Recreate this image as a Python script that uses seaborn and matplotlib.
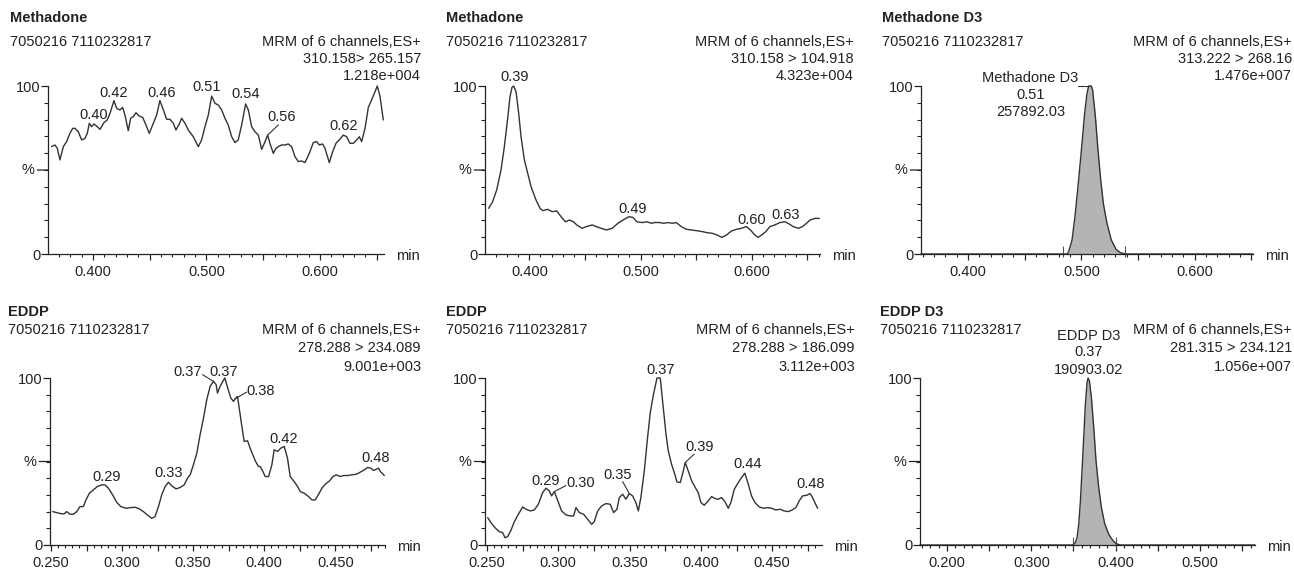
import pandas as pd
import matplotlib
matplotlib.use('Agg')
import matplotlib.pyplot as plt
from matplotlib.ticker import MultipleLocator, FixedLocator, FuncFormatter
import seaborn as sns

sns.set_theme(style='white')
plt.rcParams['font.family'] = ['Liberation Sans', 'DejaVu Sans']
plt.rcParams['font.size'] = 10.5

W, H = 1294, 570
INK = '#222222'
TRACE = '#333333'
FILL = '#b4b4b4'
FS = 10.5

# ---- header texts ----
SAMPLE = '7050216 7110232817'
CHANNEL = 'MRM of 6 channels,ES+'
compounds = ['Methadone', 'Methadone', 'Methadone D3', 'EDDP', 'EDDP', 'EDDP D3']
transitions = ['310.158> 265.157', '310.158 > 104.918', '313.222 > 268.16',
               '278.288 > 234.089', '278.288 > 186.099', '281.315 > 234.121']
intensities = ['1.218e+004', '4.323e+004', '1.476e+007',
               '9.001e+003', '3.112e+003', '1.056e+007']

# ---- traces (retention time in min, relative intensity %) ----
rt_1 = [0.3636, 0.3665, 0.3686, 0.3709, 0.3739, 0.3768, 0.3797, 0.3821, 0.3841, 0.3871,
        0.3900, 0.3930, 0.3950, 0.3968, 0.3988, 0.4009, 0.4038, 0.4062, 0.4097, 0.4126,
        0.4150, 0.4185, 0.4209, 0.4238, 0.4261, 0.4282, 0.4311, 0.4332, 0.4355, 0.4379,
        0.4408, 0.4438, 0.4467, 0.4496, 0.4526, 0.4561, 0.4590, 0.4626, 0.4649, 0.4678,
        0.4708, 0.4731, 0.4761, 0.4781, 0.4811, 0.4840, 0.4884, 0.4928, 0.4957, 0.4987,
        0.5016, 0.5046, 0.5075, 0.5104, 0.5134, 0.5163, 0.5192, 0.5222, 0.5251, 0.5280,
        0.5310, 0.5345, 0.5369, 0.5398, 0.5427, 0.5457, 0.5486, 0.5510, 0.5539, 0.5559,
        0.5589, 0.5612, 0.5633, 0.5662, 0.5692, 0.5721, 0.5750, 0.5780, 0.5809, 0.5838,
        0.5868, 0.5906, 0.5941, 0.5971, 0.5994, 0.6023, 0.6044, 0.6082, 0.6112, 0.6141,
        0.6170, 0.6206, 0.6235, 0.6264, 0.6294, 0.6323, 0.6347, 0.6367, 0.6397, 0.6426,
        0.6455, 0.6505, 0.6529, 0.6558]
pct_1 = [63.9, 64.9, 62.9, 56.0, 63.9, 66.9, 71.8, 74.8, 74.8, 72.8,
         67.9, 68.8, 71.8, 77.8, 75.8, 77.4, 75.8, 74.2, 78.2, 79.8,
         83.7, 91.3, 86.7, 85.7, 87.3, 82.7, 73.4, 80.8, 81.7, 84.1,
         82.1, 81.3, 76.8, 71.8, 76.8, 82.7, 91.3, 84.7, 80.2, 80.2,
         77.8, 73.8, 77.4, 80.8, 77.8, 73.8, 69.8, 63.9, 67.9, 75.8,
         82.7, 94.0, 89.7, 88.7, 85.7, 80.8, 76.8, 69.8, 66.3, 67.9,
         76.8, 89.3, 85.7, 75.8, 72.8, 70.8, 62.3, 65.9, 70.8, 65.9,
         59.9, 62.9, 63.9, 64.9, 64.9, 65.5, 63.9, 57.9, 55.0, 55.4,
         54.4, 59.9, 66.3, 66.9, 64.9, 65.5, 62.9, 54.4, 60.9, 65.9,
         67.9, 70.8, 69.8, 65.9, 65.9, 67.9, 69.8, 66.9, 74.8, 87.3,
         91.7, 100.0, 93.7, 79.8]

rt_2 = [0.3634, 0.3670, 0.3706, 0.3745, 0.3775, 0.3805, 0.3826, 0.3844, 0.3859, 0.3880,
        0.3904, 0.3925, 0.3955, 0.3985, 0.4015, 0.4060, 0.4096, 0.4120, 0.4165, 0.4204,
        0.4246, 0.4285, 0.4324, 0.4360, 0.4396, 0.4426, 0.4474, 0.4511, 0.4565, 0.4601,
        0.4646, 0.4691, 0.4745, 0.4796, 0.4841, 0.4895, 0.4931, 0.4967, 0.5015, 0.5057,
        0.5096, 0.5135, 0.5171, 0.5207, 0.5246, 0.5285, 0.5321, 0.5366, 0.5411, 0.5456,
        0.5502, 0.5556, 0.5598, 0.5646, 0.5688, 0.5730, 0.5772, 0.5817, 0.5862, 0.5907,
        0.5952, 0.5988, 0.6027, 0.6057, 0.6087, 0.6126, 0.6162, 0.6207, 0.6252, 0.6297,
        0.6336, 0.6372, 0.6417, 0.6456, 0.6492, 0.6523, 0.6568, 0.6607]
pct_2 = [27.2, 31.2, 38.1, 50.0, 63.9, 80.8, 93.7, 99.2, 100.0, 96.6,
         83.7, 69.8, 56.0, 48.0, 40.1, 32.1, 27.2, 25.8, 26.6, 25.2,
         25.6, 22.2, 19.2, 20.2, 19.2, 17.3, 15.3, 16.3, 17.3, 16.3,
         15.3, 14.3, 15.3, 18.3, 20.2, 22.2, 21.8, 19.2, 18.7, 19.2,
         18.3, 18.8, 18.7, 18.3, 18.7, 18.3, 18.7, 16.3, 14.7, 14.3,
         13.9, 13.3, 12.7, 12.3, 11.3, 9.9, 11.3, 13.7, 14.7, 15.3,
         16.3, 14.3, 11.3, 9.9, 11.3, 13.3, 16.3, 17.3, 18.7, 19.2,
         17.9, 16.3, 15.3, 16.3, 18.3, 20.2, 21.2, 21.2]

rt_3 = [0.3585, 0.4874, 0.4888, 0.4918, 0.4947, 0.4976, 0.5006, 0.5029, 0.5050, 0.5065,
        0.5088, 0.5100, 0.5124, 0.5147, 0.5171, 0.5194, 0.5226, 0.5265, 0.5306, 0.5344,
        0.5388, 0.6515]
pct_3 = [0, 0, 1.4, 8.3, 24.2, 44.0, 65.9, 83.7, 95.6, 100.0,
         100.0, 97.6, 81.7, 61.9, 44.0, 30.2, 18.3, 8.3, 2.8, 0.8,
         0, 0]

rt_4 = [0.2512, 0.2540, 0.2568, 0.2592, 0.2610, 0.2634, 0.2657, 0.2681, 0.2704, 0.2728,
        0.2746, 0.2770, 0.2798, 0.2826, 0.2857, 0.2880, 0.2904, 0.2934, 0.2962, 0.2991,
        0.3028, 0.3061, 0.3092, 0.3122, 0.3150, 0.3178, 0.3209, 0.3232, 0.3256, 0.3279,
        0.3303, 0.3326, 0.3350, 0.3380, 0.3408, 0.3437, 0.3460, 0.3479, 0.3502, 0.3526,
        0.3549, 0.3573, 0.3596, 0.3620, 0.3643, 0.3662, 0.3671, 0.3690, 0.3709, 0.3723,
        0.3742, 0.3765, 0.3784, 0.3796, 0.3812, 0.3826, 0.3843, 0.3859, 0.3883, 0.3901,
        0.3920, 0.3937, 0.3960, 0.3972, 0.3991, 0.4007, 0.4031, 0.4054, 0.4070, 0.4094,
        0.4117, 0.4141, 0.4164, 0.4183, 0.4211, 0.4235, 0.4254, 0.4282, 0.4312, 0.4336,
        0.4359, 0.4383, 0.4406, 0.4430, 0.4460, 0.4484, 0.4507, 0.4535, 0.4559, 0.4587,
        0.4617, 0.4648, 0.4676, 0.4704, 0.4728, 0.4751, 0.4770, 0.4789, 0.4805, 0.4817,
        0.4836, 0.4845]
pct_4 = [20.0, 19.4, 18.8, 18.6, 20.0, 18.4, 18.4, 20.0, 23.0, 23.0,
         27.0, 31.0, 33.0, 35.0, 36.0, 36.0, 34.0, 30.0, 25.6, 23.0,
         22.0, 22.4, 22.6, 21.6, 20.0, 18.0, 16.0, 17.0, 23.0, 30.0,
         35.0, 37.6, 35.4, 33.6, 34.4, 36.0, 40.0, 42.0, 48.0, 55.0,
         66.0, 76.0, 87.0, 95.0, 98.0, 96.0, 91.0, 95.0, 98.0, 100.0,
         94.4, 88.0, 86.0, 87.6, 89.0, 81.0, 71.0, 62.0, 62.4, 58.0,
         54.0, 50.4, 47.0, 47.0, 44.0, 41.0, 41.0, 48.0, 57.0, 56.0,
         58.0, 59.0, 52.0, 41.0, 38.0, 35.0, 32.0, 31.0, 29.0, 27.0,
         27.0, 30.4, 34.0, 36.4, 38.4, 41.0, 42.0, 41.0, 41.6, 41.6,
         42.0, 42.4, 43.6, 45.0, 46.4, 46.0, 44.6, 45.4, 46.0, 44.0,
         42.4, 41.6]

rt_5 = [0.2505, 0.2528, 0.2556, 0.2586, 0.2610, 0.2626, 0.2645, 0.2668, 0.2692, 0.2720,
        0.2750, 0.2773, 0.2804, 0.2832, 0.2860, 0.2890, 0.2914, 0.2937, 0.2953, 0.2972,
        0.2995, 0.3023, 0.3054, 0.3084, 0.3107, 0.3124, 0.3147, 0.3178, 0.3206, 0.3234,
        0.3252, 0.3276, 0.3304, 0.3334, 0.3364, 0.3388, 0.3411, 0.3428, 0.3451, 0.3474,
        0.3498, 0.3521, 0.3544, 0.3561, 0.3579, 0.3603, 0.3626, 0.3645, 0.3668, 0.3692,
        0.3715, 0.3731, 0.3755, 0.3771, 0.3794, 0.3813, 0.3832, 0.3855, 0.3871, 0.3890,
        0.3911, 0.3935, 0.3958, 0.3981, 0.4000, 0.4023, 0.4051, 0.4075, 0.4098, 0.4121,
        0.4145, 0.4168, 0.4192, 0.4210, 0.4234, 0.4262, 0.4285, 0.4308, 0.4332, 0.4355,
        0.4379, 0.4409, 0.4439, 0.4467, 0.4495, 0.4526, 0.4556, 0.4584, 0.4612, 0.4636,
        0.4666, 0.4689, 0.4713, 0.4743, 0.4766, 0.4783, 0.4799, 0.4818]
pct_5 = [16.4, 13.4, 10.4, 8.0, 7.4, 4.4, 5.0, 8.8, 14.0, 18.4,
         22.8, 21.4, 20.4, 21.0, 24.4, 31.4, 34.0, 32.4, 29.4, 32.0,
         26.8, 20.4, 18.0, 17.4, 17.4, 22.4, 19.4, 18.4, 15.4, 12.4,
         14.0, 20.4, 23.4, 24.8, 24.4, 19.4, 21.4, 28.4, 30.4, 27.4,
         30.8, 29.4, 25.4, 20.4, 28.4, 44.4, 64.4, 79.4, 90.4, 100.0,
         100.0, 86.4, 66.4, 56.4, 48.4, 43.4, 37.8, 37.4, 42.4, 49.4,
         44.4, 38.4, 34.8, 31.4, 25.4, 23.8, 26.4, 29.0, 27.8, 27.4,
         28.4, 26.0, 22.0, 25.4, 33.4, 37.4, 40.4, 43.0, 36.4, 29.4,
         25.4, 22.8, 22.0, 22.4, 22.0, 21.0, 21.4, 20.4, 20.0, 20.8,
         22.4, 26.4, 29.4, 29.8, 30.8, 28.4, 25.4, 22.0]

rt_6 = [0.1680, 0.3491, 0.3522, 0.3542, 0.3562, 0.3582, 0.3601, 0.3621, 0.3641, 0.3661,
        0.3673, 0.3688, 0.3712, 0.3740, 0.3767, 0.3799, 0.3831, 0.3870, 0.3918, 0.3965,
        0.4005, 0.4056, 0.5652]
pct_6 = [0, 0, 1.4, 4.4, 12.4, 26.4, 44.4, 64.4, 84.4, 97.4,
         100.0, 98.4, 88.4, 70.4, 50.4, 34.4, 22.4, 12.8, 6.4, 2.8,
         0.8, 0, 0]

# integration limits of the internal standards
integ_3 = [0.4838, 0.5386]
integ_6 = [0.3491, 0.4005]

# peak labels: text, label position (rt, %)
peaks_1 = [('0.40', 0.4003, 82.7), ('0.42', 0.4179, 96.0), ('0.46', 0.4605, 96.0),
           ('0.51', 0.5001, 99.2), ('0.54', 0.5348, 95.2), ('0.56', 0.5662, 81.7),
           ('0.62', 0.6206, 76.2)]
peaks_2 = [('0.39', 0.3865, 105.2), ('0.49', 0.4925, 26.6), ('0.60', 0.5997, 20.2),
           ('0.63', 0.6303, 23.2)]
peaks_3 = [('Methadone D3', 0.4550, 104.6), ('0.51', 0.4550, 94.6), ('257892.03', 0.4550, 84.7)]
peaks_4 = [('0.29', 0.2892, 41.0), ('0.33', 0.3326, 43.4), ('0.37', 0.3462, 103.6),
           ('0.37', 0.3718, 103.6), ('0.38', 0.3972, 92.0), ('0.42', 0.4136, 63.6),
           ('0.48', 0.4782, 52.0)]
peaks_5 = [('0.29', 0.2914, 38.4), ('0.30', 0.3154, 37.4), ('0.35', 0.3416, 42.0),
           ('0.37', 0.3715, 104.8), ('0.39', 0.3988, 58.8), ('0.44', 0.4327, 48.4),
           ('0.48', 0.4766, 36.4)]
peaks_6 = [('EDDP D3', 0.3681, 125.4), ('0.37', 0.3681, 115.4), ('190903.02', 0.3681, 104.8)]

# leader lines: (trace index of the peak, label end rt, label end %)
leaders_1 = [(68, 0.5633, 76.8)]
leaders_2 = []
leaders_3 = [(9, 0.4971, 100.0)]
leaders_4 = [(44, 0.3566, 102.0), (53, 0.3878, 91.6)]
leaders_5 = [(19, 0.3054, 35.6), (40, 0.3451, 38.0), (59, 0.3953, 54.4)]
leaders_6 = []

# ---- layout (pixel boxes: left, right, y of 100 %, y of 0 %) ----
panels = [
    dict(rt=rt_1, pct=pct_1, peaks=peaks_1, leaders=leaders_1, integ=None,
         box=(48, 384, 86, 254), xlim=(0.3604, 0.6564), steps=(0.05, 0.01, 0.1)),
    dict(rt=rt_2, pct=pct_2, peaks=peaks_2, leaders=leaders_2, integ=None,
         box=(485, 820, 86, 254), xlim=(0.3601, 0.6613), steps=(0.05, 0.01, 0.1)),
    dict(rt=rt_3, pct=pct_3, peaks=peaks_3, leaders=leaders_3, integ=integ_3,
         box=(921, 1253, 86, 254), xlim=(0.3585, 0.6515), steps=(0.05, 0.01, 0.1)),
    dict(rt=rt_4, pct=pct_4, peaks=peaks_4, leaders=leaders_4, integ=None,
         box=(50, 385, 378, 545), xlim=(0.2493, 0.4850), steps=(0.025, 0.005, 0.05)),
    dict(rt=rt_5, pct=pct_5, peaks=peaks_5, leaders=leaders_5, integ=None,
         box=(485, 822, 378, 545), xlim=(0.2486, 0.4849), steps=(0.025, 0.005, 0.05)),
    dict(rt=rt_6, pct=pct_6, peaks=peaks_6, leaders=leaders_6, integ=integ_6,
         box=(920, 1255, 378, 545), xlim=(0.1680, 0.5652), steps=(0.05, 0.01, 0.1)),
]
# header anchors: left x, right x, title y, then the three right lines y
heads = [(10, 421, 18, 42, 59, 76), (446, 854, 18, 42, 59, 76), (882, 1292, 18, 42, 59, 76),
         (8, 421, 312, 330, 348, 367), (446, 855, 312, 330, 348, 367), (880, 1292, 312, 330, 348, 367)]


def px_rect(left, right, top, bottom):
    return [left / W, 1 - bottom / H, (right - left) / W, (bottom - top) / H]


def tick_text(step):
    def f(v, pos):
        k = v / step
        return f'{v:.3f}' if abs(k - round(k)) < 1e-6 else ''
    return FuncFormatter(f)


def ftext(x, y, s, **kw):
    fig.text(x / W, 1 - y / H, s, fontsize=FS, color=INK, va='center', **kw)


fig = plt.figure(figsize=(W / 100, H / 100), dpi=100)

for i, p in enumerate(panels):
    ax = fig.add_axes(px_rect(*p['box']))
    df = pd.DataFrame({'rt': p['rt'], 'pct': p['pct']})
    if p['integ'] is not None:
        ax.fill_between(df.rt, df.pct, color=FILL, lw=0)
        ax.vlines(p['integ'], -1.8, 4.8, color='#555555', lw=0.8, clip_on=False)
    sns.lineplot(data=df, x='rt', y='pct', ax=ax, color=TRACE, lw=1.0,
                 estimator=None, sort=False, clip_on=False)

    ax.set_xlim(*p['xlim'])
    ax.set_ylim(0, 100)
    ax.set_xlabel('')
    ax.set_ylabel('')
    ax.set_facecolor('none')
    for s in ['top', 'right']:
        ax.spines[s].set_visible(False)
    for s in ['left', 'bottom']:
        ax.spines[s].set_color(INK)
        ax.spines[s].set_linewidth(0.9)

    major, minor, lab = p['steps']
    ax.xaxis.set_major_locator(MultipleLocator(major))
    ax.xaxis.set_minor_locator(MultipleLocator(minor))
    ax.xaxis.set_major_formatter(tick_text(lab))
    ax.yaxis.set_major_locator(FixedLocator([0, 100]))
    ax.yaxis.set_minor_locator(MultipleLocator(10))
    ax.yaxis.set_major_formatter(FuncFormatter(lambda v, pos: f'{v:.0f}'))
    ax.tick_params(axis='x', which='major', bottom=True, direction='out', length=4.5,
                   width=0.9, pad=3.5, labelsize=FS, colors=INK)
    ax.tick_params(axis='x', which='minor', bottom=True, direction='out', length=2.5,
                   width=0.8, colors=INK)
    ax.tick_params(axis='y', which='major', left=True, direction='out', length=5,
                   width=0.9, pad=0.5, labelsize=FS, colors=INK)
    ax.tick_params(axis='y', which='minor', left=True, direction='out', length=3,
                   width=0.8, colors=INK)

    ax.annotate('%', xy=(0, 50), xycoords=ax.get_yaxis_transform(), xytext=(-14, 0),
                textcoords='offset pixels', ha='right', va='center', fontsize=FS, color=INK,
                arrowprops=dict(arrowstyle='-', color=INK, lw=0.9, shrinkA=0, shrinkB=0,
                                relpos=(1, 0.5)))
    ax.annotate('min', xy=(1, 0), xycoords='axes fraction', xytext=(12, -2),
                textcoords='offset pixels', ha='left', va='center', fontsize=FS, color=INK)

    for txt, x, y in p['peaks']:
        ax.text(x, y, txt, ha='center', va='center', fontsize=FS, color=INK, clip_on=False)
    for k, x, y in p['leaders']:
        ax.plot([p['rt'][k], x], [p['pct'][k], y], color=TRACE, lw=0.8, clip_on=False)

    lx, rx, ty, y1, y2, y3 = heads[i]
    ftext(lx, ty, compounds[i], ha='left', fontweight='bold')
    ftext(lx, y1, SAMPLE, ha='left')
    ftext(rx, y1, CHANNEL, ha='right')
    ftext(rx, y2, transitions[i], ha='right')
    ftext(rx, y3, intensities[i], ha='right')

fig.savefig('out.png', dpi=100)
